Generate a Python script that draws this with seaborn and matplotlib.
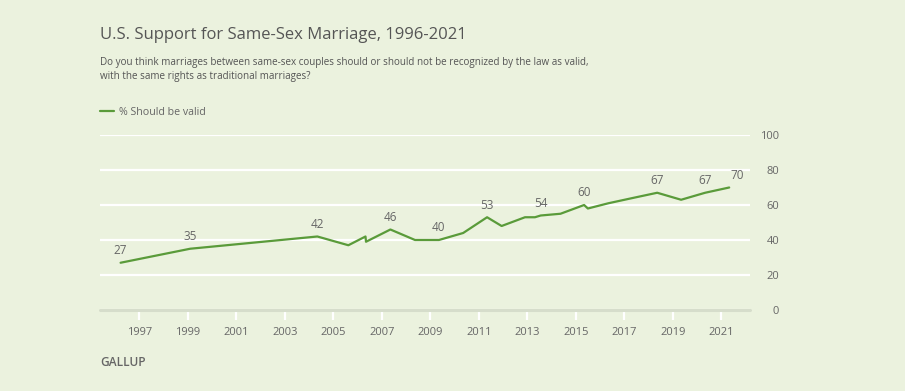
import pandas as pd
import matplotlib.pyplot as plt
import matplotlib.dates as mdates
import seaborn as sns

# ── DATA ─────────────────────────────────────────────────
poll_dates = [
    "1996-03-25", "1999-02-05", "2004-05-05", "2005-08-15", "2006-04-30",
    "2006-05-08", "2007-05-10", "2008-05-15", "2009-05-10", "2010-05-10",
    "2011-05-05", "2011-12-10", "2012-11-26", "2013-04-25", "2013-07-20",
    "2014-05-15", "2015-05-05", "2015-07-01", "2016-05-05", "2017-05-05",
    "2018-05-10", "2019-05-05", "2020-05-01", "2021-04-28",
]
pct_valid = [27, 35, 42, 37, 42, 39, 46, 40, 40, 44, 53, 48,
             53, 53, 54, 55, 60, 58, 61, 64, 67, 63, 67, 70]
# which points get a value label
labeled_idx = [0, 1, 2, 6, 8, 10, 14, 16, 20, 22, 23]
tick_years = list(range(1997, 2022, 2))
y_ticks = [0, 20, 40, 60, 80, 100]

df = pd.DataFrame({"date": pd.to_datetime(poll_dates), "pct": pct_valid})

# ── STYLE ────────────────────────────────────────────────
BG = "#EBF2DE"
GREEN = "#5A9B3A"
TEXT = "#666666"

sns.set_theme(style="white")
plt.rcParams["font.family"] = ["Open Sans", "DejaVu Sans"]
plt.rcParams["figure.dpi"] = 100

fig, ax = plt.subplots(figsize=(9.05, 3.91))
fig.patch.set_facecolor(BG)
ax.set_facecolor(BG)
fig.subplots_adjust(left=0.1105, right=0.8287, bottom=0.2072, top=0.6547)

sns.lineplot(data=df, x="date", y="pct", ax=ax, color=GREEN,
             linewidth=1.6, label="% Should be valid", zorder=3)

# value labels
for i in labeled_idx:
    dx = 6 if i == len(pct_valid) - 1 else 0
    ax.annotate(str(pct_valid[i]), (df["date"][i], pct_valid[i]),
                textcoords="offset points", xytext=(dx, 4),
                ha="center", va="bottom", fontsize=8.5, color=TEXT)

# axes / grid
ax.set_ylim(0, 100)
ax.set_xlim(pd.Timestamp("1995-05-20"), pd.Timestamp("2022-03-07"))
ax.set_yticks(y_ticks)
ax.yaxis.tick_right()
ax.yaxis.grid(True, color="white", linewidth=1.6)
ax.set_axisbelow(True)
ax.tick_params(axis="y", length=0, pad=21, labelsize=8, labelcolor=TEXT)
for lab in ax.get_yticklabels():
    lab.set_horizontalalignment("right")

ax.set_xticks([pd.Timestamp(f"{y}-01-01") for y in tick_years])
ax.xaxis.set_major_formatter(mdates.DateFormatter("%Y"))
ax.tick_params(axis="x", direction="out", length=7, width=1.6,
               color="white", pad=5, labelsize=8, labelcolor=TEXT,
               bottom=True)
ax.axhline(0, color="#D6DDCB", linewidth=2.2, zorder=2, clip_on=False)

for s in ax.spines.values():
    s.set_visible(False)
ax.set_xlabel("")
ax.set_ylabel("")

ax.legend(loc="center left", bbox_to_anchor=(100 / 905, 1 - 112.5 / 391),
          bbox_transform=fig.transFigure, frameon=False, fontsize=7.7,
          handlelength=1.3, handletextpad=0.5, labelcolor=TEXT,
          borderpad=0, borderaxespad=0)

# titles
fig.text(100 / 905, 1 - 35 / 391, "U.S. Support for Same-Sex Marriage, 1996-2021",
         fontsize=12, color="#555555", va="center", ha="left")
fig.text(100 / 905, 1 - 63 / 391,
         "Do you think marriages between same-sex couples should or should not be recognized by the law as valid,",
         fontsize=7.15, color="#555555", va="center", ha="left")
fig.text(100 / 905, 1 - 77 / 391, "with the same rights as traditional marriages?",
         fontsize=7.15, color="#555555", va="center", ha="left")
fig.text(100 / 905, 1 - 362 / 391, "GALLUP", fontsize=8.6, color=TEXT,
         fontweight="semibold", va="center", ha="left")

plt.savefig("out.png", dpi=100, facecolor=BG)
